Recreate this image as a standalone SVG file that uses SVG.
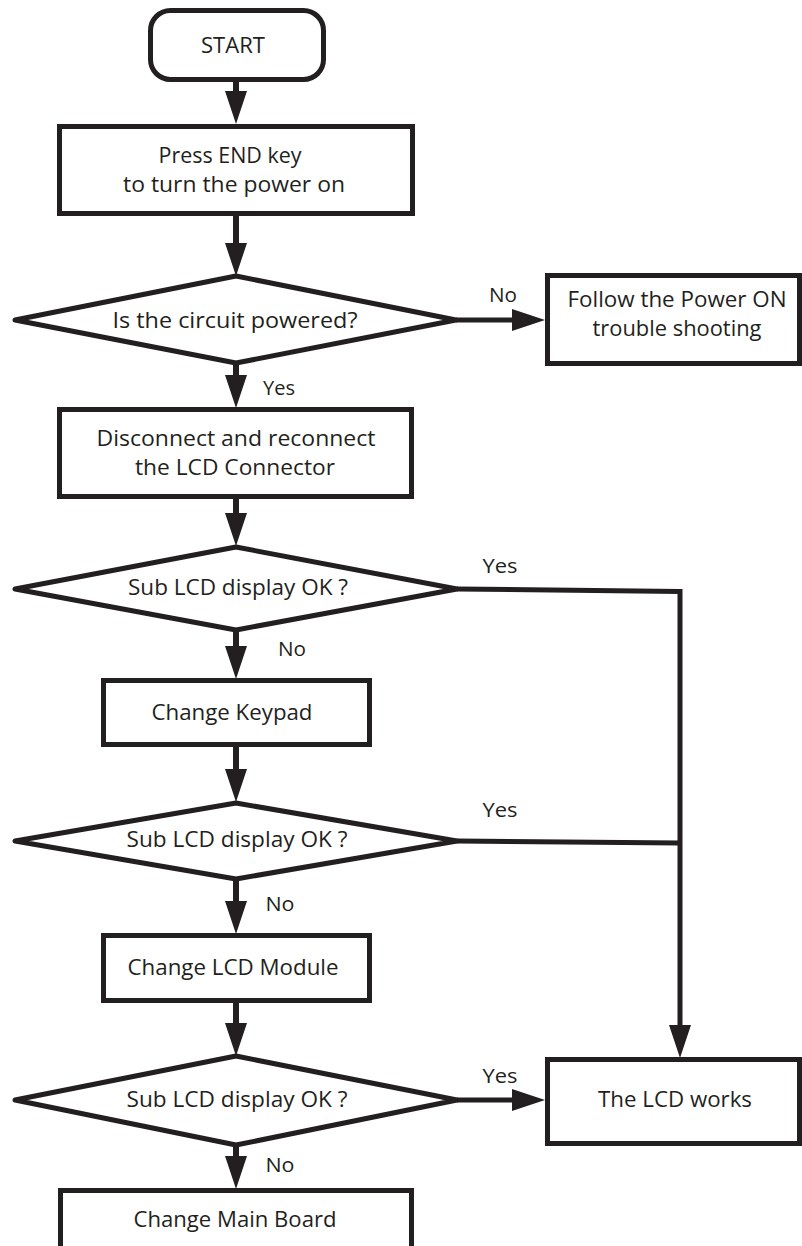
<svg xmlns="http://www.w3.org/2000/svg" width="802" height="1246" viewBox="0 0 802 1246">
<style>
.shape{fill:#fff;stroke:#231f20;stroke-width:5;stroke-linejoin:round}
.box{fill:#fff;stroke:#231f20;stroke-width:5;stroke-linejoin:miter}
.t{font-family:"Open Sans","Liberation Sans",sans-serif;font-size:21px;fill:#231f20;text-anchor:middle}
.lab{font-family:"Open Sans","Liberation Sans",sans-serif;font-size:20px;fill:#231f20;text-anchor:middle}
.c{fill:none;stroke:#231f20;stroke-width:6}
.h{fill:none;stroke:#231f20;stroke-width:5}
</style>
<defs>
<marker id="ah" viewBox="0 0 33 22" markerWidth="33" markerHeight="22" markerUnits="userSpaceOnUse" refX="1" refY="11" orient="auto">
<path d="M0,0 L33,11 L0,22 z" fill="#231f20"/>
</marker>
</defs>
<rect width="802" height="1246" fill="#fff"/>
<g id="connectors">
<path class="c" d="M236,81 V92" marker-end="url(#ah)"/>
<path class="c" d="M236,215 V244" marker-end="url(#ah)"/>
<path class="h" d="M456,320 H513" marker-end="url(#ah)"/>
<path class="c" d="M236,362 V376" marker-end="url(#ah)"/>
<path class="c" d="M236,498 V514" marker-end="url(#ah)"/>
<path class="c" d="M236,630 V647" marker-end="url(#ah)"/>
<path class="c" d="M236,746 V770" marker-end="url(#ah)"/>
<path class="c" d="M236,879 V902" marker-end="url(#ah)"/>
<path class="c" d="M236,1002 V1024" marker-end="url(#ah)"/>
<path class="h" d="M457,1100 H513" marker-end="url(#ah)"/>
<path class="c" d="M236,1145 V1157" marker-end="url(#ah)"/>
<path class="h" d="M457,589 L680,591.5"/>
<path class="h" d="M457,841 L680,843"/>
<path class="h" d="M680,589 V1026" marker-end="url(#ah)"/>
<text class="lab" x="503" y="302" textLength="28" lengthAdjust="spacingAndGlyphs">No</text>
<text class="lab" x="279" y="395" textLength="32" lengthAdjust="spacingAndGlyphs">Yes</text>
<text class="lab" x="500" y="573" textLength="35" lengthAdjust="spacingAndGlyphs">Yes</text>
<text class="lab" x="292" y="656" textLength="28" lengthAdjust="spacingAndGlyphs">No</text>
<text class="lab" x="500" y="817" textLength="35" lengthAdjust="spacingAndGlyphs">Yes</text>
<text class="lab" x="280" y="911" textLength="29" lengthAdjust="spacingAndGlyphs">No</text>
<text class="lab" x="500" y="1083" textLength="35" lengthAdjust="spacingAndGlyphs">Yes</text>
<text class="lab" x="280" y="1172" textLength="29" lengthAdjust="spacingAndGlyphs">No</text>
</g>
<g id="start">
<rect class="box" x="150.5" y="10.5" width="173" height="69" rx="20"/>
<text class="t" x="233" y="53" textLength="64" lengthAdjust="spacingAndGlyphs">START</text>
</g>
<g id="press-end">
<rect class="box" x="59.5" y="126.5" width="353" height="87"/>
<text class="t" x="230" y="163" textLength="143" lengthAdjust="spacingAndGlyphs">Press END key</text>
<text class="t" x="234" y="192" textLength="222" lengthAdjust="spacingAndGlyphs">to turn the power on</text>
</g>
<g id="powered">
<polygon class="shape" points="236,276 456,320 236,363 15,320"/>
<text class="t" x="235" y="328" textLength="245" lengthAdjust="spacingAndGlyphs">Is the circuit powered?</text>
</g>
<g id="follow">
<rect class="box" x="547.5" y="275.5" width="252" height="88"/>
<text class="t" x="677" y="307" textLength="219" lengthAdjust="spacingAndGlyphs">Follow the Power ON</text>
<text class="t" x="677" y="336" textLength="169" lengthAdjust="spacingAndGlyphs">trouble shooting</text>
</g>
<g id="reconnect">
<rect class="box" x="59.5" y="409.5" width="352" height="87"/>
<text class="t" x="236" y="446" textLength="279" lengthAdjust="spacingAndGlyphs">Disconnect and reconnect</text>
<text class="t" x="235" y="475" textLength="200" lengthAdjust="spacingAndGlyphs">the LCD Connector</text>
</g>
<g id="check1">
<polygon class="shape" points="236,547 457,589 236,630 15,589"/>
<text class="t" x="238" y="595" textLength="220" lengthAdjust="spacingAndGlyphs">Sub LCD display OK ?</text>
</g>
<g id="keypad">
<rect class="box" x="103.5" y="680.5" width="266" height="64"/>
<text class="t" x="232" y="720" textLength="161" lengthAdjust="spacingAndGlyphs">Change Keypad</text>
</g>
<g id="check2">
<polygon class="shape" points="236,803 457,841 236,879 15,841"/>
<text class="t" x="237" y="847" textLength="221" lengthAdjust="spacingAndGlyphs">Sub LCD display OK ?</text>
</g>
<g id="module">
<rect class="box" x="103.5" y="935.5" width="266" height="65"/>
<text class="t" x="233" y="975" textLength="211" lengthAdjust="spacingAndGlyphs">Change LCD Module</text>
</g>
<g id="check3">
<polygon class="shape" points="236,1056 457,1100 236,1145 15,1100"/>
<text class="t" x="237" y="1107" textLength="221" lengthAdjust="spacingAndGlyphs">Sub LCD display OK ?</text>
</g>
<g id="works">
<rect class="box" x="547.5" y="1059.5" width="252" height="84"/>
<text class="t" x="675" y="1107" textLength="154" lengthAdjust="spacingAndGlyphs">The LCD works</text>
</g>
<g id="mainboard">
<rect class="box" x="60.5" y="1190.5" width="351" height="80"/>
<text class="t" x="235" y="1227" textLength="203" lengthAdjust="spacingAndGlyphs">Change Main Board</text>
</g>
</svg>
